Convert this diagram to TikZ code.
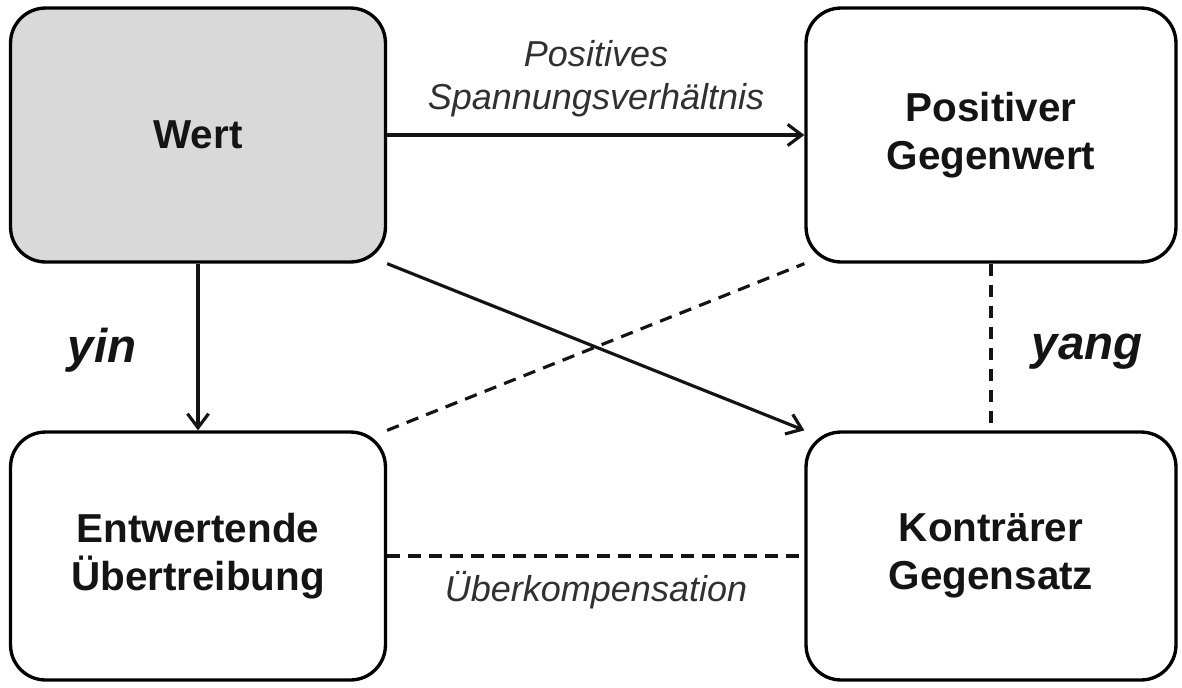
\documentclass[tikz,border=0pt]{standalone}
\usepackage{fontspec}
\setmainfont{Liberation Sans}
\usetikzlibrary{arrows.meta}
\definecolor{boxgray}{HTML}{D9D9D9}
\definecolor{labelgray}{HTML}{303030}
\begin{document}
\begin{tikzpicture}[x=0.02cm,y=-0.02cm,
  box/.style={draw=black, line width=1.9pt, rounded corners=0.7cm, align=center,
    font=\fontsize{23}{27.5}\selectfont\bfseries, text=black!92, inner sep=0pt},
  conn/.style={line width=1.8pt, draw=black!92},
  tip/.style={-{Straight Barb[length=8pt,width=12pt,line width=1.8pt]}},
  dashline/.style={dash pattern=on 0.25cm off 0.17cm},
  lbl/.style={font=\fontsize{20.5}{24.5}\selectfont\itshape, text=labelgray, align=center},
  yy/.style={font=\fontsize{27}{30}\selectfont\bfseries\itshape, text=black!92}]
\useasboundingbox (0,0) rectangle (1182,687);
% the four concepts
\node[box, fill=boxgray, minimum width=7.5cm, minimum height=5.08cm] (wert) at (198,135) {Wert};
\node[box, minimum width=7.4cm, minimum height=5.08cm] (pos) at (991,135) {Positiver\\Gegenwert};
\node[box, minimum width=7.5cm, minimum height=4.96cm] (ent) at (198,556) {Entwertende\\Übertreibung};
\node[box, minimum width=7.4cm, minimum height=4.96cm] (kon) at (991,556) {Konträrer\\Gegensatz};
% solid arrows
\draw[conn, tip] (wert.east) -- (pos.west);
\draw[conn, tip] (wert.south) -- (ent.north);
\draw[conn, tip] (wert.south east) -- (kon.north west);
% dashed relations
\draw[conn, dashline] (ent.north east) -- (pos.south west);
\draw[conn, dashline] (pos.south) -- (kon.north);
\draw[conn, dashline] (ent.east) -- (kon.west);
% labels
\node[lbl] (l1) at (596,79) {Positives\\Spannungsverhältnis};
\node[lbl] (l2) at (596,590) {Überkompensation};
\node[yy] (yin) at (102,350) {yin};
\node[yy] (yang) at (1087,352) {yang};
\end{tikzpicture}
\end{document}
